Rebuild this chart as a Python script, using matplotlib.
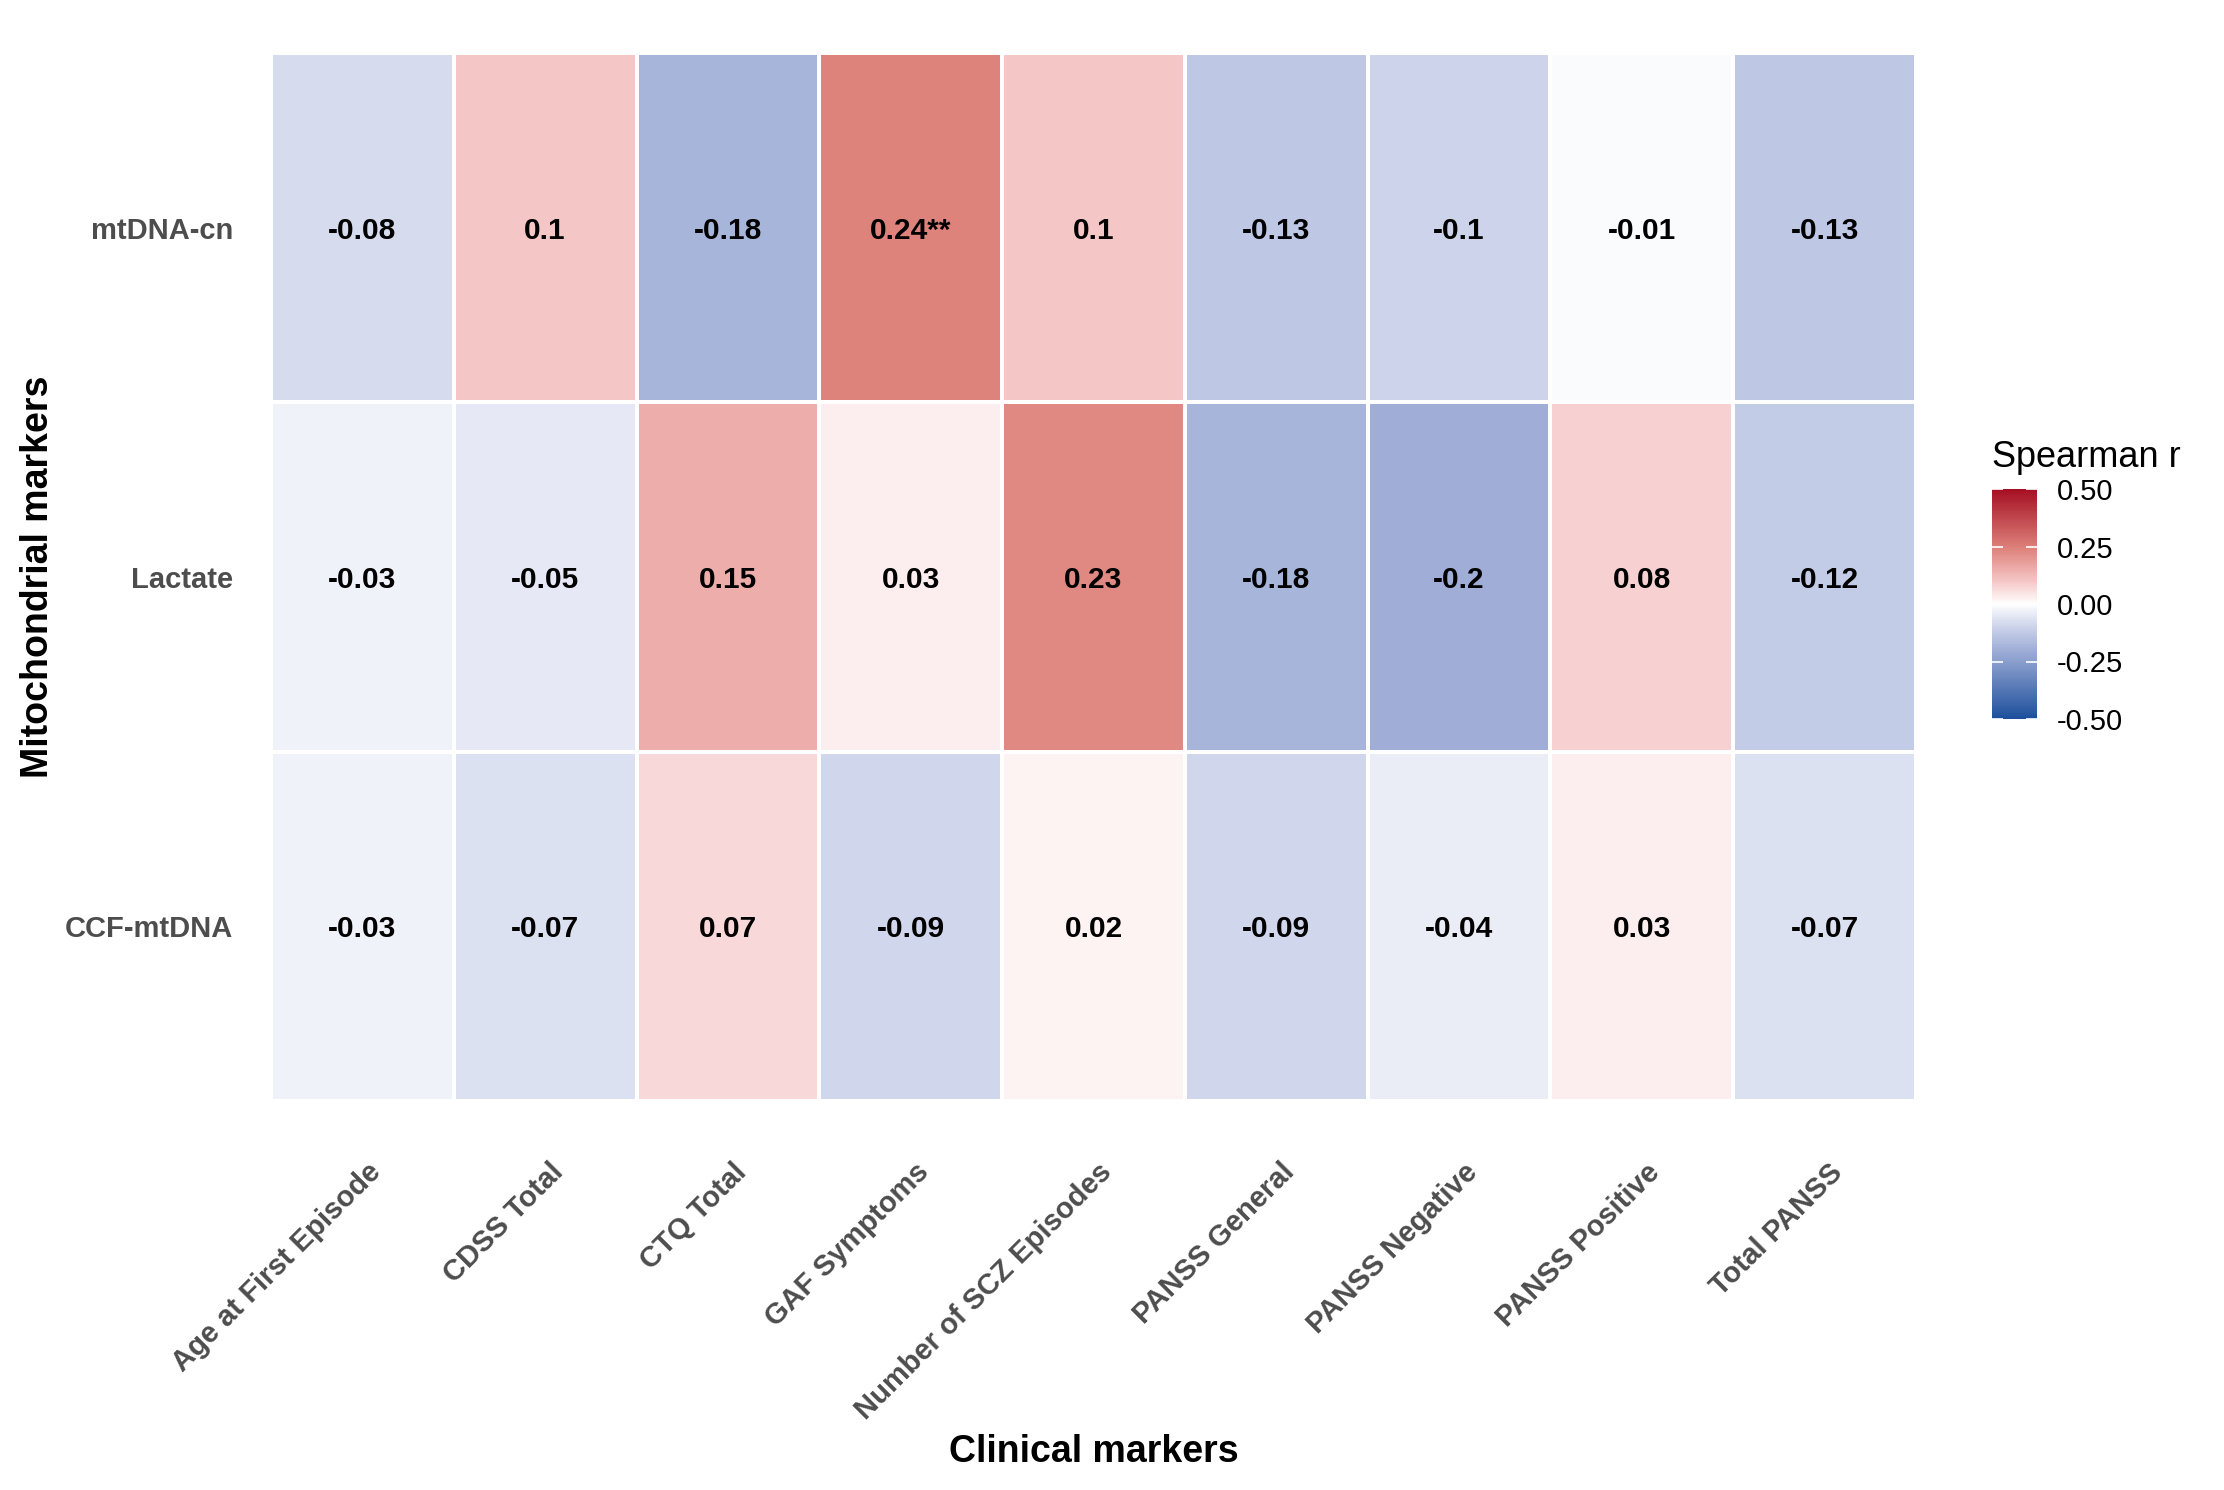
import numpy as np
import matplotlib
matplotlib.use("Agg")
import matplotlib.pyplot as plt
from matplotlib.colors import LinearSegmentedColormap, Normalize
import matplotlib.transforms as mtransforms

plt.rcParams['font.family'] = ['Liberation Sans', 'DejaVu Sans']

clinical = ["Age at First Episode", "CDSS Total", "CTQ Total", "GAF Symptoms",
            "Number of SCZ Episodes", "PANSS General", "PANSS Negative",
            "PANSS Positive", "Total PANSS"]
mito = ["mtDNA-cn", "Lactate", "CCF-mtDNA"]

r_mtdna = [-0.08, 0.10, -0.18, 0.24, 0.10, -0.13, -0.10, -0.01, -0.13]
r_lactate = [-0.03, -0.05, 0.15, 0.03, 0.23, -0.18, -0.20, 0.08, -0.12]
r_ccf = [-0.03, -0.07, 0.07, -0.09, 0.02, -0.09, -0.04, 0.03, -0.07]

lab_mtdna = ["-0.08", "0.1", "-0.18", "0.24**", "0.1", "-0.13", "-0.1", "-0.01", "-0.13"]
lab_lactate = ["-0.03", "-0.05", "0.15", "0.03", "0.23", "-0.18", "-0.2", "0.08", "-0.12"]
lab_ccf = ["-0.03", "-0.07", "0.07", "-0.09", "0.02", "-0.09", "-0.04", "0.03", "-0.07"]

cbar_ticks = [-0.5, -0.25, 0.0, 0.25, 0.5]
cbar_ticklabels = ["-0.50", "-0.25", "0.00", "0.25", "0.50"]

values = np.array([r_mtdna, r_lactate, r_ccf])
labels = [lab_mtdna, lab_lactate, lab_ccf]

stops = [(-0.5, "#1d4f9c"), (-0.2, "#a0aed7"), (-0.1, "#ccd3ea"), (0.0, "#ffffff"),
         (0.1, "#f5c6c6"), (0.24, "#de837c"), (0.5, "#a50f22")]
cmap = LinearSegmentedColormap.from_list("sp", [((v + 0.5), c) for v, c in stops])
norm = Normalize(vmin=-0.5, vmax=0.5)

W, H = 2224, 1490
fig = plt.figure(figsize=(W / 100, H / 100), dpi=100)
ax = fig.add_axes([271 / W, 1 - 1101 / H, (1916 - 271) / W, (1101 - 53) / H])

nr, nc = values.shape
mesh = ax.pcolormesh(np.arange(nc + 1), np.arange(nr + 1), values, cmap=cmap, norm=norm,
                     edgecolor="white", linewidth=1.5)
ax.set_xlim(0, nc)
ax.set_ylim(nr, 0)
for s in ax.spines.values():
    s.set_visible(False)

for i in range(nr):
    for j in range(nc):
        ax.text(j + 0.5, i + 0.5, labels[i][j], ha="center", va="center_baseline",
                fontsize=21.5, fontweight="bold", color="black")

ax.set_yticks(np.arange(nr) + 0.5)
ax.set_yticklabels(mito, fontsize=21, fontweight="bold", color="#4d4d4d",
                   va="center_baseline")
ax.tick_params(axis="y", length=0, pad=27)
ax.set_xticks([])

offset = mtransforms.ScaledTranslation(4 / 100, -57 / 100, fig.dpi_scale_trans)
trans = mtransforms.blended_transform_factory(ax.transData, ax.transAxes) + offset
for j, name in enumerate(clinical):
    ax.text(j + 0.5, 0, name, transform=trans, rotation=45, rotation_mode="anchor",
            ha="right", va="top", fontsize=21, fontweight="bold", color="#4d4d4d")

fig.text((271 + 1916) / 2 / W, 1 - 1452 / H, "Clinical markers", ha="center", va="center",
         fontsize=27, fontweight="bold")
fig.text(38 / W, 1 - (53 + 1101) / 2 / H, "Mitochondrial markers", ha="center", va="center",
         rotation=90, fontsize=27, fontweight="bold")

cax = fig.add_axes([1992 / W, 1 - 719 / H, 45 / W, 230 / H])
cb = fig.colorbar(mesh, cax=cax, ticks=cbar_ticks)
cb.outline.set_visible(False)
cb.ax.set_yticklabels(cbar_ticklabels)
cb.ax.yaxis.set_ticks_position("both")
cb.ax.tick_params(axis="y", direction="in", length=8, width=1.2, color="white",
                  labelcolor="black", labelsize=21, pad=14, labelleft=False, labelright=True)
fig.text(1992 / W, 1 - 467 / H, "Spearman r", ha="left", va="baseline", fontsize=26)

fig.savefig("out.png", dpi=100, facecolor="white")
